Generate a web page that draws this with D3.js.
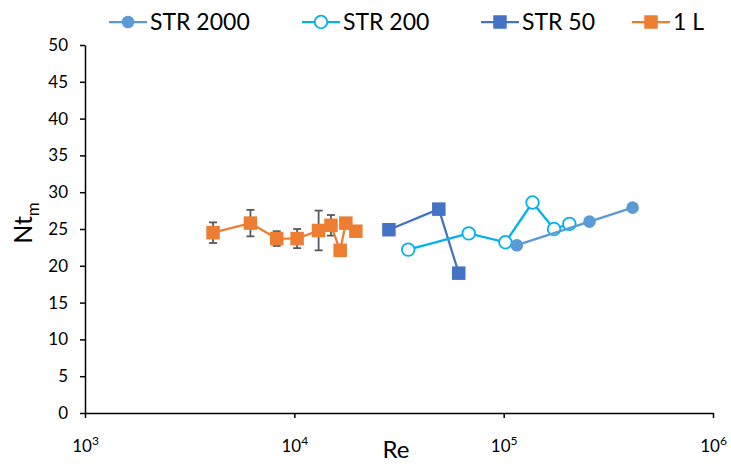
<!DOCTYPE html>
<html>
<head>
<meta charset="utf-8">
<script src="https://cdn.jsdelivr.net/npm/d3@7"></script>
<style>
  body { margin: 0; background: #fff; }
  svg text { font-family: Lato, 'Open Sans', sans-serif; fill: #000; }
</style>
</head>
<body>
<div class="canvas"></div>
<script>
// data (Re, Nt_m)
const str2000Re = [115600, 257000, 413000];
const str2000Nt = [22.8, 26.0, 27.9];

const str200Re = [35000, 68100, 101900, 137400, 174000, 206000];
const str200Nt = [22.2, 24.4, 23.2, 28.6, 25.0, 25.7];

const str50Re = [28300, 49000, 61000];
const str50Nt = [24.9, 27.7, 19.0];

const oneLRe = [4090, 6170, 8240, 10310, 13060, 14960, 16560, 17620, 19670];
const oneLNt = [24.5, 25.8, 23.7, 23.7, 24.8, 25.5, 22.1, 25.8, 24.7];
const oneLErr = [1.4, 1.8, 1.0, 1.3, 2.7, 1.4, 0, 0, 0];

const yTicks = [0, 5, 10, 15, 20, 25, 30, 35, 40, 45, 50];
const xTicks = [1e3, 1e4, 1e5, 1e6];

const series = [
    { name: 'STR 2000', re: str2000Re, nt: str2000Nt, color: '#5B9BD5', shape: 'circle', fill: true },
    { name: 'STR 200', re: str200Re, nt: str200Nt, color: '#00B0F0', shape: 'circle', fill: false },
    { name: 'STR 50', re: str50Re, nt: str50Nt, color: '#4472C4', shape: 'square', fill: true },
    { name: '1 L', re: oneLRe, nt: oneLNt, err: oneLErr, color: '#ED7D31', shape: 'square', fill: true }
];

const svg = d3.select('.canvas')
    .append('svg')
    .attr('width', 731)
    .attr('height', 465);

// scales
const xScale = d3.scaleLog()
    .domain([1e3, 1e6])
    .range([85, 713]);
const yScale = d3.scaleLinear()
    .domain([0, 50])
    .range([413, 45]);

// y axis
const yAxisGroup = svg.append('g')
    .attr('transform', 'translate(85,0)')
    .call(d3.axisLeft(yScale).tickValues(yTicks).tickSize(5).tickPadding(12).tickSizeOuter(0));
yAxisGroup.selectAll('text')
    .style('font-size', '17px');

// x axis
const xAxisGroup = svg.append('g')
    .attr('transform', 'translate(0,413)')
    .call(d3.axisBottom(xScale).tickValues(xTicks).tickSize(5).tickSizeOuter(0).tickFormat(''));

xAxisGroup.selectAll('.tick').append('text')
    .attr('y', 39)
    .attr('text-anchor', 'middle')
    .style('font-size', '17px')
    .text('10')
    .append('tspan')
    .attr('dy', -7)
    .style('font-size', '12px')
    .text(d => Math.round(Math.log10(d)));

svg.selectAll('.domain, .tick line')
    .attr('stroke', '#000')
    .attr('stroke-width', 1.5);

// axis titles
svg.append('text')
    .attr('x', 396)
    .attr('y', 458)
    .attr('text-anchor', 'middle')
    .style('font-size', '24px')
    .text('Re');

const yTitle = svg.append('text')
    .attr('transform', 'translate(32,223) rotate(-90)')
    .attr('text-anchor', 'middle')
    .style('font-size', '25px')
    .text('Nt');
yTitle.append('tspan')
    .attr('dy', 7)
    .style('font-size', '17px')
    .text('m');

// marker helper
const marker = (sel, s) => {
    const size = s.shape === 'circle' ? Math.PI * 6.3 * 6.3 : 13.5 * 13.5;
    const type = s.shape === 'circle' ? d3.symbolCircle : d3.symbolSquare;
    sel.attr('d', d3.symbol().type(type).size(size))
        .attr('fill', s.fill ? s.color : '#fff')
        .attr('stroke', s.color)
        .attr('stroke-width', s.fill ? 0 : 1.8);
};

const line = d3.line()
    .x(d => xScale(d.re))
    .y(d => yScale(d.nt));

// draw series (1 L first so the STR series sit on top like the original)
series.slice().reverse().forEach(s => {
    const pts = s.re.map((re, i) => ({ re, nt: s.nt[i], err: s.err ? s.err[i] : 0 }));
    const g = svg.append('g');

    if (s.err) {
        const eb = g.selectAll('.eb')
            .data(pts.filter(d => d.err > 0))
            .enter().append('g')
            .attr('stroke', '#595959')
            .attr('stroke-width', 1.8);
        eb.append('line')
            .attr('x1', d => xScale(d.re)).attr('x2', d => xScale(d.re))
            .attr('y1', d => yScale(d.nt + d.err)).attr('y2', d => yScale(d.nt - d.err));
        eb.append('line')
            .attr('x1', d => xScale(d.re) - 4).attr('x2', d => xScale(d.re) + 4)
            .attr('y1', d => yScale(d.nt + d.err)).attr('y2', d => yScale(d.nt + d.err));
        eb.append('line')
            .attr('x1', d => xScale(d.re) - 4).attr('x2', d => xScale(d.re) + 4)
            .attr('y1', d => yScale(d.nt - d.err)).attr('y2', d => yScale(d.nt - d.err));
    }

    g.append('path')
        .datum(pts)
        .attr('d', line)
        .attr('fill', 'none')
        .attr('stroke', s.color)
        .attr('stroke-width', 2.25);

    g.selectAll('.pt')
        .data(pts)
        .enter().append('path')
        .attr('transform', d => `translate(${xScale(d.re)},${yScale(d.nt)})`)
        .call(sel => marker(sel, s));
});

// legend
const legendX = [128, 321, 500, 651];
const legend = svg.selectAll('.legend')
    .data(series)
    .enter().append('g')
    .attr('transform', (d, i) => `translate(${legendX[i]},22)`);

legend.append('line')
    .attr('x1', -19).attr('x2', 19)
    .attr('stroke', d => d.color)
    .attr('stroke-width', 2.25);
legend.append('path')
    .each(function (d) { marker(d3.select(this), d); });
legend.append('text')
    .attr('x', 22)
    .attr('y', 8)
    .style('font-size', '23px')
    .text(d => d.name);
</script>
</body>
</html>
